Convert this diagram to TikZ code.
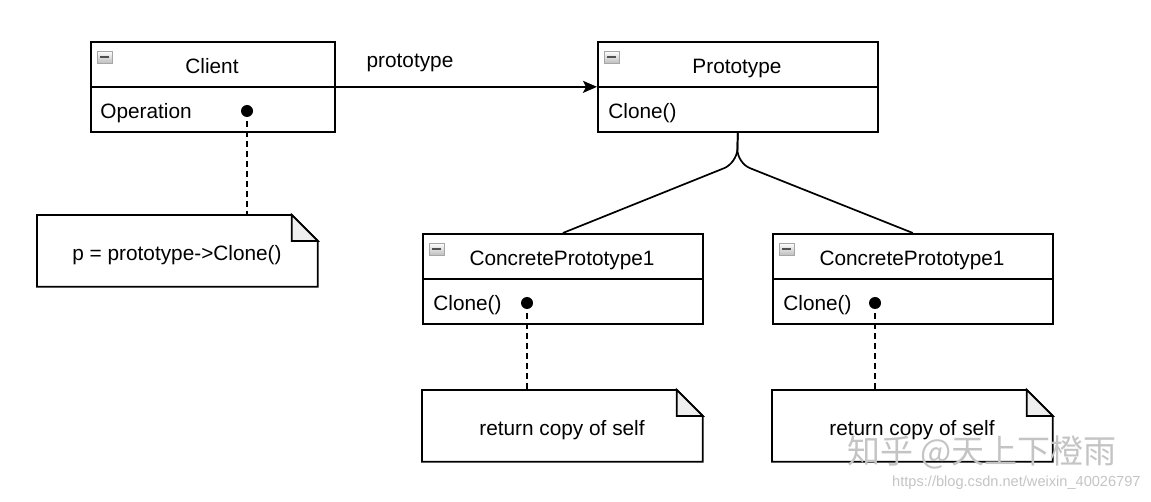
\documentclass[tikz,border=0pt]{standalone}
\usepackage{fontspec}
\setmainfont{Liberation Sans}
\newfontfamily\cjkfont{Noto Sans CJK SC}
\usetikzlibrary{arrows.meta, positioning, calc}
\definecolor{FoldGray}{HTML}{EEEEEE}
\definecolor{MarkGray}{HTML}{C4C4C4}
\definecolor{BarGray}{HTML}{505050}

\tikzset{
    classbox/.style={draw, line width=0.85pt, anchor=north west, minimum height=45pt, inner sep=0pt},
    notebody/.style={anchor=north west, minimum width=140pt, minimum height=35.5pt, inner sep=0pt},
    txt/.style={font=\fontsize{10.4}{12}\selectfont, inner sep=0pt, text height=7.5pt, text depth=0pt},
    dotend/.style={circle, fill, inner sep=0pt, minimum size=6pt},
    dashlink/.style={line width=0.85pt, dash pattern=on 3pt off 2pt},
    solidlink/.style={line width=0.85pt},
}

% folded-corner outline round a note node
\newcommand{\notefold}[1]{%
    \draw[solidlink] (#1.north west) -- ($(#1.north east)+(-26,0)$) -- ($(#1.north east)+(0,26)$)
        -- (#1.south east) -- (#1.south west) -- cycle;
    \filldraw[solidlink, fill=FoldGray] ($(#1.north east)+(-26,0)$) -- ($(#1.north east)+(-26,26)$)
        -- ($(#1.north east)+(0,26)$) -- cycle;}

% small collapse icon in the top left corner of a class box
\newcommand{\collapseicon}[1]{%
    \shade[top color=white, bottom color=black!25, draw=black!35, line width=0.4pt]
        ($(#1.north west)+(7,10)$) rectangle ($(#1.north west)+(22,22)$);
    \fill[BarGray] ($(#1.north west)+(10,15.2)$) rectangle ($(#1.north west)+(19,17)$);}

\begin{document}
\begin{tikzpicture}[x=0.5pt, y=-0.5pt]
    \useasboundingbox (0,0) rectangle (1151,502);

    % Client
    \node[classbox, minimum width=122pt] (client) at (90,41) {};
    \draw[solidlink] (client.west) -- (client.east);
    \node[txt] (clienttitle) at (212,66) {Client};
    \node[txt, anchor=west] (clientop) at (100,111) {Operation};
    \collapseicon{client}

    % Prototype
    \node[classbox, minimum width=140pt] (proto) at (597,41) {};
    \draw[solidlink] (proto.west) -- (proto.east);
    \node[txt] (prototitle) at (737,66) {Prototype};
    \node[txt, anchor=west] (protoop) at (608,111) {Clone()};
    \collapseicon{proto}

    % Concrete prototypes
    \node[classbox, minimum width=140pt] (cpa) at (422,233) {};
    \draw[solidlink] (cpa.west) -- (cpa.east);
    \node[txt] (cpatitle) at (562,258) {ConcretePrototype1};
    \node[txt, anchor=west] (cpaop) at (433,303) {Clone()};
    \collapseicon{cpa}

    \node[classbox, minimum width=140pt] (cpb) at (772,233) {};
    \draw[solidlink] (cpb.west) -- (cpb.east);
    \node[txt] (cpbtitle) at (912,258) {ConcretePrototype1};
    \node[txt, anchor=west] (cpbop) at (783,303) {Clone()};
    \collapseicon{cpb}

    % Notes
    \node[notebody] (noteclient) at (37,215) {};
    \notefold{noteclient}
    \node[txt] (noteclienttxt) at (177,253) {p = prototype->Clone()};

    \node[notebody] (notecpa) at (422,390) {};
    \notefold{notecpa}
    \node[txt] (notecpatxt) at (562,428) {return copy of self};

    \node[notebody] (notecpb) at (772,390) {};
    \notefold{notecpb}
    \node[txt] (notecpbtxt) at (912,428) {return copy of self};

    % Association
    \draw[solidlink, -{Stealth[length=7pt, width=6pt, inset=1.5pt]}] (client.east) -- (proto.west);
    \node[txt] (protolbl) at (410,60) {prototype};

    % Inheritance fork
    \coordinate (fork) at (737,163);
    \draw[solidlink, rounded corners=7pt] (cpa.north) -- (fork) -- (proto.south);
    \draw[solidlink, rounded corners=7pt] (cpb.north) -- (fork) -- (proto.south);

    % Note links
    \coordinate (clientdot) at (247,111);
    \coordinate (cpadot) at (527,303);
    \coordinate (cpbdot) at (875,303);
    \draw[dashlink] (clientdot) -- (clientdot |- noteclient.north);
    \draw[dashlink] (cpadot) -- (cpadot |- notecpa.north);
    \draw[dashlink] (cpbdot) -- (cpbdot |- notecpb.north);
    \foreach \d in {clientdot, cpadot, cpbdot}
        \node[dotend] at (\d) {};

    % Watermark
    \node[text=MarkGray, inner sep=0pt, font=\cjkfont\fontsize{16.5}{18}\selectfont] (mark) at (982,452) {知乎 @天上下橙雨};
    \node[text=MarkGray, inner sep=0pt, anchor=east, font=\fontsize{7.3}{9}\selectfont] (url) at (1141,483) {https://blog.csdn.net/weixin\_40026797};
\end{tikzpicture}
\end{document}
